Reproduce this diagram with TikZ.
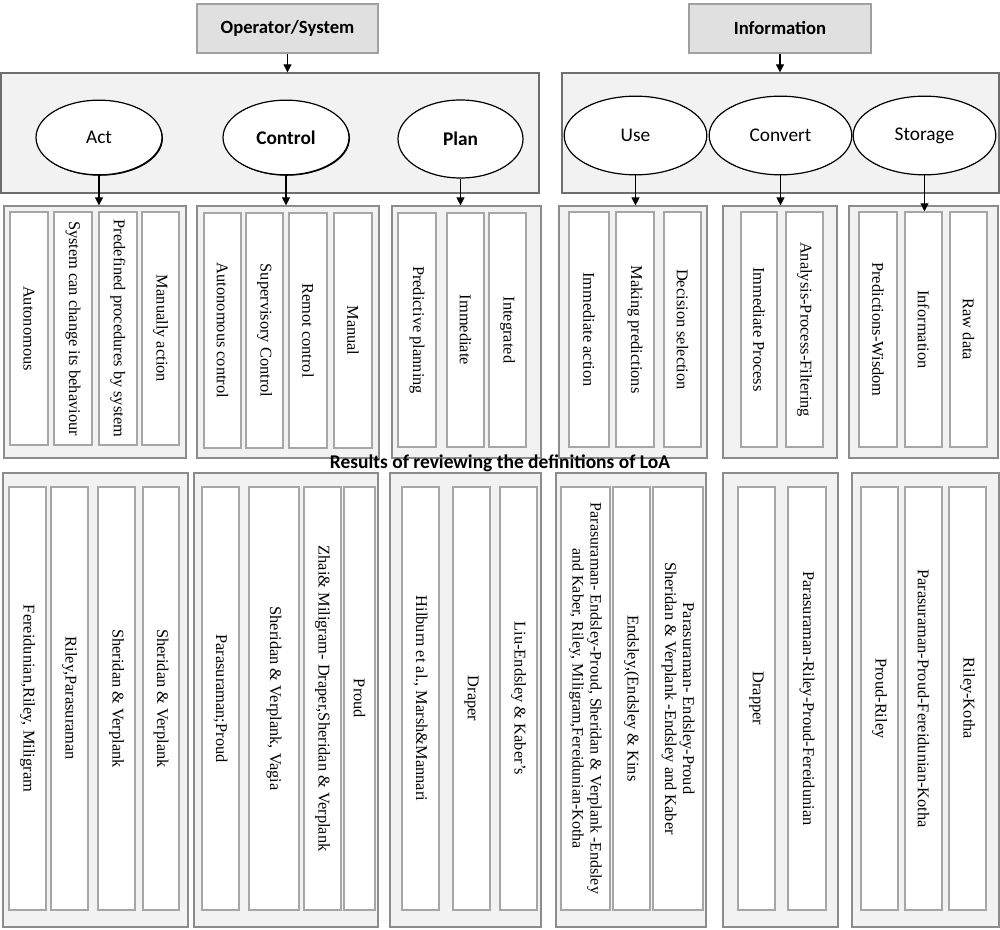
\documentclass[tikz,border=0pt]{standalone}
\usepackage{fontspec}
\setmainfont{Liberation Serif}
\newfontfamily\carlito{Carlito}
\usetikzlibrary{arrows.meta,shapes.geometric,shadows}
\definecolor{grpfill}{HTML}{F2F2F2}
\definecolor{grpline}{HTML}{8C8C8C}
\definecolor{cellline}{HTML}{A6A6A6}
\definecolor{hdrfill}{HTML}{E0E0E0}
\definecolor{hdrline}{HTML}{A0A0A0}
\definecolor{bigline}{HTML}{6E6E6E}
\newcommand{\mycell}[6]{%
  \pgfmathsetmacro{\mycx}{(#2+#3)/2}\pgfmathsetmacro{\mycy}{(#4+#5)/2}%
  \pgfmathsetmacro{\mycw}{(#3-#2)*0.75}\pgfmathsetmacro{\mych}{(#5-#4)*0.75}%
  \node[cellbox, minimum width=\mych pt, minimum height=\mycw pt] (#1) at (\mycx,\mycy) {#6};}
\newcommand{\mygrp}[6]{%
  \pgfmathsetmacro{\mycx}{(#3+#4)/2}\pgfmathsetmacro{\mycy}{(#5+#6)/2}%
  \pgfmathsetmacro{\mycw}{(#4-#3)*0.75}\pgfmathsetmacro{\mych}{(#6-#5)*0.75}%
  \node[#1, minimum width=\mycw pt, minimum height=\mych pt] (#2) at (\mycx,\mycy) {};}
\begin{document}
\begin{tikzpicture}[x=0.75pt,y=-0.75pt,
  grpbox/.style={draw=grpline, fill=grpfill, line width=0.9pt, inner sep=0pt, rectangle},
  bigbox/.style={draw=bigline, fill=grpfill, line width=1pt, inner sep=0pt, rectangle},
  hdrbox/.style={draw=hdrline, fill=hdrfill, line width=1pt, inner sep=0pt, rectangle},
  cellbox/.style={draw=cellline, fill=white, line width=1.1pt, inner sep=1pt, rotate=-90,
    align=center, font=\fontsize{12.3}{13.5}\selectfont},
  oval/.style={ellipse, draw=black, fill=white, line width=0.9pt, inner sep=0pt,
    font=\carlito\fontsize{14.5}{16}\selectfont},
  ovalb/.style={oval, font=\carlito\bfseries\fontsize{14.5}{16}\selectfont},
  shad/.style={drop shadow={shadow xshift=0.7pt, shadow yshift=-0.7pt, fill=black, opacity=1}},
  arr/.style={-{Triangle[width=6pt,length=6pt]}, line width=0.8pt, black},
  hdrtext/.style={font=\carlito\bfseries\fontsize{14}{16}\selectfont}
]
\useasboundingbox (0,0) rectangle (1000,930);
% headers
\mygrp{hdrbox}{opsys}{197}{378}{4}{53}
\node[hdrtext] (opsyst) at (opsys.center) {Operator/System};
\mygrp{hdrbox}{info}{689}{871}{4}{53}
\node[hdrtext] (infot) at (info.center) {Information};
% big boxes
\mygrp{bigbox}{bigL}{1}{539}{73}{193}
\mygrp{bigbox}{bigR}{562}{999}{73}{193}
\draw[arr] (opsys.south) -- (opsys.south |- bigL.north);
\draw[arr] (info.south) -- (info.south |- bigR.north);
% ellipses
\node[oval, shad, minimum width=94.5pt, minimum height=56pt] (act) at (99,137.5) {Act};
\node[ovalb, shad, minimum width=94.5pt, minimum height=56pt] (control) at (286,137.5) {Control};
\node[ovalb, minimum width=93.75pt, minimum height=58.5pt] (plan) at (460.5,139) {Plan};
\node[oval, minimum width=107pt, minimum height=59pt] (use) at (635.5,135.5) {Use};
\node[oval, minimum width=107pt, minimum height=59pt] (convert) at (780.5,135.5) {Convert};
\node[oval, minimum width=107pt, minimum height=59pt] (storage) at (924.5,135.5) {Storage};
% second row groups
\mygrp{grpbox}{gA}{4}{186}{206}{458}
\mygrp{grpbox}{gC}{197}{379}{206}{458}
\mygrp{grpbox}{gP}{392}{541}{206}{458}
\mygrp{grpbox}{gU}{559}{707}{206}{458}
\mygrp{grpbox}{gV}{723}{837}{206}{458}
\mygrp{grpbox}{gS}{849}{998}{206}{458}
% second row cells
\mycell{a1}{10}{48}{212}{445}{Autonomous}
\mycell{a2}{54}{92}{212}{445}{System can change its behaviour}
\mycell{a3}{99}{137}{212}{445}{Predefined procedures by system}
\mycell{a4}{142}{179}{212}{445}{Manually action}
\mycell{c1}{204}{241}{213}{448}{Autonomous control}
\mycell{c2}{246}{283}{213}{448}{Supervisory Control}
\mycell{c3}{289}{327}{213}{448}{Remot control}
\mycell{c4}{334}{372}{213}{448}{Manual}
\mycell{p1}{398}{436}{213}{447}{Predictive planning}
\mycell{p2}{447}{484}{213}{447}{Immediate}
\mycell{p3}{489}{526}{213}{447}{Integrated}
\mycell{u1}{569}{609}{212}{447}{Immediate action}
\mycell{u2}{616}{654}{212}{447}{Making predictions}
\mycell{u3}{664}{701}{212}{447}{Decision selection}
\mycell{v1}{741}{777}{212}{447}{Immediate Process}
\mycell{v2}{786}{823}{212}{447}{Analysis-Process-Filtering}
\mycell{s1}{859}{897}{212}{447}{Predictions-Wisdom}
\mycell{s2}{905}{942}{212}{447}{Information}
\mycell{s3}{950}{987}{212}{447}{Raw data}
% arrows ellipses -> groups
\draw[arr] (act.south) -- (act.south |- gA.north);
\draw[arr] (control.south) -- (control.south |- gC.north);
\draw[arr] (plan.south) -- (plan.south |- gP.north);
\draw[arr] (use.south) -- (use.south |- gU.north);
\draw[arr] (convert.south) -- (convert.south |- gV.north);
\draw[arr] (storage.south) -- (storage.south |- s2.west);
% title
\node[font=\carlito\bfseries\fontsize{14.6}{16}\selectfont] (title) at (500,463) {Results of reviewing the definitions of LoA};
% bottom groups
\mygrp{grpbox}{hA}{3}{188}{473}{927}
\mygrp{grpbox}{hC}{194}{378}{473}{927}
\mygrp{grpbox}{hP}{390}{541}{473}{927}
\mygrp{grpbox}{hU}{556}{706}{473}{927}
\mygrp{grpbox}{hV}{723}{838}{473}{927}
\mygrp{grpbox}{hS}{852}{999}{473}{927}
% bottom cells
\mycell{ra1}{9}{46}{487}{910}{Fereidunian,Riley, Miligram}
\mycell{ra2}{51}{88}{487}{910}{Riley,Parasuraman}
\mycell{ra3}{98}{135}{487}{910}{Sheridan \& Verplank}
\mycell{ra4}{143}{179}{487}{910}{Sheridan \& Verplank}
\mycell{rc1}{202}{239}{487}{910}{Parasuraman;Proud}
\mycell{rc2}{249}{299}{487}{910}{Sheridan \& Verplank, Vagia}
\mycell{rc3}{304}{341}{487}{910}{Zhai\& Miligram- Draper,Sheridan \& Verplank}
\mycell{rc4}{344}{375}{487}{910}{Proud}
\mycell{rp1}{402}{439}{487}{910}{Hilburn et al., Marsh\&Mannari}
\mycell{rp2}{453}{490}{487}{910}{Draper}
\mycell{rp3}{500}{537}{487}{910}{Liu-Endsley \& Kaber's}
\mycell{ru1}{561}{610}{487}{910}{\fontsize{12}{13.5}\selectfont Parasuraman- Endsley-Proud, Sheridan \& Verplank -Endsley\\\fontsize{12}{13.5}\selectfont and Kaber, Riley, Miligram,Fereidunian-Kotha}
\mycell{ru2}{613}{650}{487}{910}{Endsley,(Endsley \& Kins}
\mycell{ru3}{653}{703}{487}{910}{Parasuraman- Endsley-Proud\\Sheridan \& Verplank -Endsley and Kaber}
\mycell{rv1}{738}{775}{487}{910}{Drapper}
\mycell{rv2}{788}{826}{487}{910}{Parasuraman-Riley-Proud-Fereidunian}
\mycell{rs1}{861}{898}{487}{910}{Proud-Riley}
\mycell{rs2}{905}{942}{487}{910}{Parasuraman-Proud-Fereidunian-Kotha}
\mycell{rs3}{949}{986}{487}{910}{Riley-Kotha}
\end{tikzpicture}
\end{document}
